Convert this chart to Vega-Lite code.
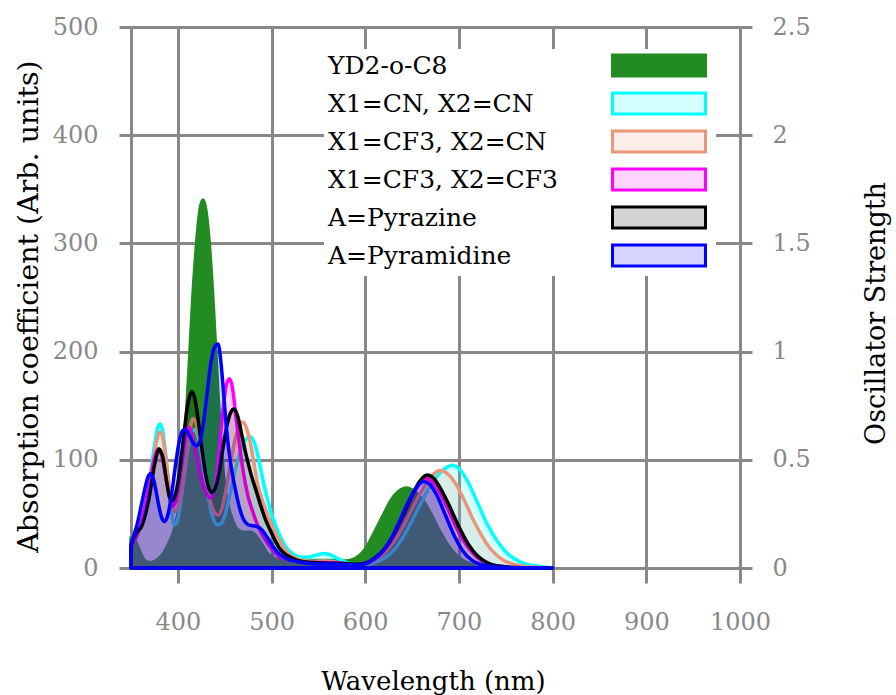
{
  "$schema": "https://vega.github.io/schema/vega-lite/v6.json",
  "width": 609,
  "height": 541,
  "autosize": {"type": "none"},
  "padding": {"left": 131, "top": 27, "right": 156, "bottom": 127},
  "background": "white",
  "config": {
    "font": "DejaVu Serif",
    "view": {"stroke": null},
    "axis": {"labelFont": "DejaVu Serif", "titleFont": "DejaVu Serif", "titleFontWeight": "normal", "titleColor": "#000000", "labelColor": "#888888", "labelFlush": false, "labelOverlap": false}
  },
  "data": {
    "values": [
      {"s":"YD2-o-C8","nm":350,"v":28},{"s":"YD2-o-C8","nm":354,"v":26},{"s":"YD2-o-C8","nm":358,"v":18},{"s":"YD2-o-C8","nm":362,"v":10},{"s":"YD2-o-C8","nm":366,"v":6},{"s":"YD2-o-C8","nm":370,"v":5},{"s":"YD2-o-C8","nm":375,"v":6},{"s":"YD2-o-C8","nm":380,"v":9},{"s":"YD2-o-C8","nm":385,"v":14},{"s":"YD2-o-C8","nm":390,"v":22},{"s":"YD2-o-C8","nm":395,"v":32},{"s":"YD2-o-C8","nm":400,"v":50},{"s":"YD2-o-C8","nm":404,"v":80},{"s":"YD2-o-C8","nm":408,"v":125},{"s":"YD2-o-C8","nm":412,"v":185},{"s":"YD2-o-C8","nm":416,"v":250},{"s":"YD2-o-C8","nm":420,"v":300},{"s":"YD2-o-C8","nm":424,"v":333},{"s":"YD2-o-C8","nm":427,"v":340},{"s":"YD2-o-C8","nm":430,"v":330},{"s":"YD2-o-C8","nm":434,"v":295},{"s":"YD2-o-C8","nm":438,"v":240},{"s":"YD2-o-C8","nm":442,"v":175},{"s":"YD2-o-C8","nm":446,"v":115},{"s":"YD2-o-C8","nm":450,"v":75},{"s":"YD2-o-C8","nm":454,"v":56},{"s":"YD2-o-C8","nm":458,"v":45},{"s":"YD2-o-C8","nm":463,"v":36},{"s":"YD2-o-C8","nm":470,"v":33},{"s":"YD2-o-C8","nm":478,"v":33},{"s":"YD2-o-C8","nm":485,"v":28},{"s":"YD2-o-C8","nm":490,"v":21},{"s":"YD2-o-C8","nm":495,"v":14},{"s":"YD2-o-C8","nm":500,"v":10},{"s":"YD2-o-C8","nm":510,"v":7.5},{"s":"YD2-o-C8","nm":530,"v":7},{"s":"YD2-o-C8","nm":560,"v":7},{"s":"YD2-o-C8","nm":580,"v":6.5},{"s":"YD2-o-C8","nm":590,"v":9},{"s":"YD2-o-C8","nm":600,"v":17},{"s":"YD2-o-C8","nm":610,"v":33},{"s":"YD2-o-C8","nm":620,"v":50},{"s":"YD2-o-C8","nm":628,"v":63},{"s":"YD2-o-C8","nm":636,"v":71},{"s":"YD2-o-C8","nm":644,"v":74},{"s":"YD2-o-C8","nm":650,"v":72},{"s":"YD2-o-C8","nm":656,"v":68},{"s":"YD2-o-C8","nm":662,"v":62},{"s":"YD2-o-C8","nm":670,"v":50},{"s":"YD2-o-C8","nm":680,"v":33},{"s":"YD2-o-C8","nm":690,"v":19},{"s":"YD2-o-C8","nm":698,"v":11},{"s":"YD2-o-C8","nm":706,"v":6},{"s":"YD2-o-C8","nm":715,"v":3},{"s":"YD2-o-C8","nm":730,"v":1},{"s":"YD2-o-C8","nm":750,"v":0.2},{"s":"YD2-o-C8","nm":800,"v":0},

      {"s":"X1=CN, X2=CN","nm":350,"v":20},{"s":"X1=CN, X2=CN","nm":355,"v":28},{"s":"X1=CN, X2=CN","nm":360,"v":38},{"s":"X1=CN, X2=CN","nm":365,"v":55},{"s":"X1=CN, X2=CN","nm":370,"v":82},{"s":"X1=CN, X2=CN","nm":375,"v":113},{"s":"X1=CN, X2=CN","nm":378,"v":128},{"s":"X1=CN, X2=CN","nm":381,"v":133},{"s":"X1=CN, X2=CN","nm":384,"v":126},{"s":"X1=CN, X2=CN","nm":387,"v":105},{"s":"X1=CN, X2=CN","nm":390,"v":78},{"s":"X1=CN, X2=CN","nm":393,"v":54},{"s":"X1=CN, X2=CN","nm":396,"v":40},{"s":"X1=CN, X2=CN","nm":399,"v":42},{"s":"X1=CN, X2=CN","nm":402,"v":55},{"s":"X1=CN, X2=CN","nm":406,"v":80},{"s":"X1=CN, X2=CN","nm":410,"v":105},{"s":"X1=CN, X2=CN","nm":414,"v":122},{"s":"X1=CN, X2=CN","nm":418,"v":128},{"s":"X1=CN, X2=CN","nm":422,"v":120},{"s":"X1=CN, X2=CN","nm":426,"v":100},{"s":"X1=CN, X2=CN","nm":430,"v":78},{"s":"X1=CN, X2=CN","nm":434,"v":58},{"s":"X1=CN, X2=CN","nm":438,"v":45},{"s":"X1=CN, X2=CN","nm":442,"v":40},{"s":"X1=CN, X2=CN","nm":446,"v":41},{"s":"X1=CN, X2=CN","nm":450,"v":48},{"s":"X1=CN, X2=CN","nm":455,"v":66},{"s":"X1=CN, X2=CN","nm":460,"v":86},{"s":"X1=CN, X2=CN","nm":465,"v":103},{"s":"X1=CN, X2=CN","nm":470,"v":115},{"s":"X1=CN, X2=CN","nm":474,"v":120},{"s":"X1=CN, X2=CN","nm":478,"v":121},{"s":"X1=CN, X2=CN","nm":482,"v":115},{"s":"X1=CN, X2=CN","nm":486,"v":102},{"s":"X1=CN, X2=CN","nm":490,"v":85},{"s":"X1=CN, X2=CN","nm":495,"v":66},{"s":"X1=CN, X2=CN","nm":500,"v":50},{"s":"X1=CN, X2=CN","nm":505,"v":38},{"s":"X1=CN, X2=CN","nm":510,"v":28},{"s":"X1=CN, X2=CN","nm":515,"v":20},{"s":"X1=CN, X2=CN","nm":520,"v":15},{"s":"X1=CN, X2=CN","nm":527,"v":11},{"s":"X1=CN, X2=CN","nm":535,"v":10},{"s":"X1=CN, X2=CN","nm":542,"v":10.5},{"s":"X1=CN, X2=CN","nm":550,"v":12.5},{"s":"X1=CN, X2=CN","nm":556,"v":13.5},{"s":"X1=CN, X2=CN","nm":562,"v":12.5},{"s":"X1=CN, X2=CN","nm":570,"v":9},{"s":"X1=CN, X2=CN","nm":580,"v":5},{"s":"X1=CN, X2=CN","nm":590,"v":3},{"s":"X1=CN, X2=CN","nm":600,"v":3},{"s":"X1=CN, X2=CN","nm":610,"v":5},{"s":"X1=CN, X2=CN","nm":620,"v":9},{"s":"X1=CN, X2=CN","nm":630,"v":16},{"s":"X1=CN, X2=CN","nm":640,"v":28},{"s":"X1=CN, X2=CN","nm":650,"v":44},{"s":"X1=CN, X2=CN","nm":660,"v":61},{"s":"X1=CN, X2=CN","nm":670,"v":77},{"s":"X1=CN, X2=CN","nm":680,"v":88},{"s":"X1=CN, X2=CN","nm":687,"v":93},{"s":"X1=CN, X2=CN","nm":693,"v":95},{"s":"X1=CN, X2=CN","nm":700,"v":92},{"s":"X1=CN, X2=CN","nm":710,"v":79},{"s":"X1=CN, X2=CN","nm":720,"v":60},{"s":"X1=CN, X2=CN","nm":730,"v":41},{"s":"X1=CN, X2=CN","nm":740,"v":26},{"s":"X1=CN, X2=CN","nm":750,"v":15},{"s":"X1=CN, X2=CN","nm":760,"v":8},{"s":"X1=CN, X2=CN","nm":770,"v":4},{"s":"X1=CN, X2=CN","nm":780,"v":2},{"s":"X1=CN, X2=CN","nm":790,"v":1},{"s":"X1=CN, X2=CN","nm":800,"v":0},

      {"s":"X1=CF3, X2=CN","nm":350,"v":20},{"s":"X1=CF3, X2=CN","nm":355,"v":27},{"s":"X1=CF3, X2=CN","nm":360,"v":37},{"s":"X1=CF3, X2=CN","nm":365,"v":52},{"s":"X1=CF3, X2=CN","nm":370,"v":76},{"s":"X1=CF3, X2=CN","nm":375,"v":105},{"s":"X1=CF3, X2=CN","nm":378,"v":120},{"s":"X1=CF3, X2=CN","nm":381,"v":126},{"s":"X1=CF3, X2=CN","nm":384,"v":120},{"s":"X1=CF3, X2=CN","nm":387,"v":103},{"s":"X1=CF3, X2=CN","nm":390,"v":82},{"s":"X1=CF3, X2=CN","nm":394,"v":60},{"s":"X1=CF3, X2=CN","nm":397,"v":52},{"s":"X1=CF3, X2=CN","nm":400,"v":56},{"s":"X1=CF3, X2=CN","nm":404,"v":72},{"s":"X1=CF3, X2=CN","nm":408,"v":98},{"s":"X1=CF3, X2=CN","nm":412,"v":124},{"s":"X1=CF3, X2=CN","nm":416,"v":138},{"s":"X1=CF3, X2=CN","nm":420,"v":133},{"s":"X1=CF3, X2=CN","nm":424,"v":115},{"s":"X1=CF3, X2=CN","nm":428,"v":92},{"s":"X1=CF3, X2=CN","nm":432,"v":72},{"s":"X1=CF3, X2=CN","nm":436,"v":58},{"s":"X1=CF3, X2=CN","nm":440,"v":50},{"s":"X1=CF3, X2=CN","nm":443,"v":49},{"s":"X1=CF3, X2=CN","nm":447,"v":55},{"s":"X1=CF3, X2=CN","nm":452,"v":75},{"s":"X1=CF3, X2=CN","nm":457,"v":100},{"s":"X1=CF3, X2=CN","nm":462,"v":122},{"s":"X1=CF3, X2=CN","nm":466,"v":132},{"s":"X1=CF3, X2=CN","nm":469,"v":135},{"s":"X1=CF3, X2=CN","nm":473,"v":130},{"s":"X1=CF3, X2=CN","nm":477,"v":117},{"s":"X1=CF3, X2=CN","nm":481,"v":98},{"s":"X1=CF3, X2=CN","nm":485,"v":78},{"s":"X1=CF3, X2=CN","nm":490,"v":63},{"s":"X1=CF3, X2=CN","nm":495,"v":51},{"s":"X1=CF3, X2=CN","nm":500,"v":40},{"s":"X1=CF3, X2=CN","nm":505,"v":31},{"s":"X1=CF3, X2=CN","nm":510,"v":23},{"s":"X1=CF3, X2=CN","nm":515,"v":16},{"s":"X1=CF3, X2=CN","nm":520,"v":12},{"s":"X1=CF3, X2=CN","nm":527,"v":8.6},{"s":"X1=CF3, X2=CN","nm":535,"v":7},{"s":"X1=CF3, X2=CN","nm":545,"v":6},{"s":"X1=CF3, X2=CN","nm":555,"v":6.5},{"s":"X1=CF3, X2=CN","nm":565,"v":6},{"s":"X1=CF3, X2=CN","nm":575,"v":4},{"s":"X1=CF3, X2=CN","nm":585,"v":3},{"s":"X1=CF3, X2=CN","nm":595,"v":3},{"s":"X1=CF3, X2=CN","nm":605,"v":5},{"s":"X1=CF3, X2=CN","nm":615,"v":10},{"s":"X1=CF3, X2=CN","nm":625,"v":18},{"s":"X1=CF3, X2=CN","nm":635,"v":30},{"s":"X1=CF3, X2=CN","nm":645,"v":46},{"s":"X1=CF3, X2=CN","nm":655,"v":63},{"s":"X1=CF3, X2=CN","nm":665,"v":78},{"s":"X1=CF3, X2=CN","nm":672,"v":86},{"s":"X1=CF3, X2=CN","nm":680,"v":90},{"s":"X1=CF3, X2=CN","nm":688,"v":87},{"s":"X1=CF3, X2=CN","nm":695,"v":80},{"s":"X1=CF3, X2=CN","nm":705,"v":64},{"s":"X1=CF3, X2=CN","nm":715,"v":45},{"s":"X1=CF3, X2=CN","nm":723,"v":32},{"s":"X1=CF3, X2=CN","nm":730,"v":22},{"s":"X1=CF3, X2=CN","nm":740,"v":12},{"s":"X1=CF3, X2=CN","nm":748,"v":7},{"s":"X1=CF3, X2=CN","nm":760,"v":3},{"s":"X1=CF3, X2=CN","nm":775,"v":1},{"s":"X1=CF3, X2=CN","nm":790,"v":0.3},{"s":"X1=CF3, X2=CN","nm":800,"v":0},

      {"s":"X1=CF3, X2=CF3","nm":350,"v":20},{"s":"X1=CF3, X2=CF3","nm":355,"v":28},{"s":"X1=CF3, X2=CF3","nm":360,"v":40},{"s":"X1=CF3, X2=CF3","nm":365,"v":58},{"s":"X1=CF3, X2=CF3","nm":370,"v":80},{"s":"X1=CF3, X2=CF3","nm":375,"v":102},{"s":"X1=CF3, X2=CF3","nm":379,"v":110},{"s":"X1=CF3, X2=CF3","nm":383,"v":103},{"s":"X1=CF3, X2=CF3","nm":387,"v":85},{"s":"X1=CF3, X2=CF3","nm":391,"v":66},{"s":"X1=CF3, X2=CF3","nm":394,"v":57},{"s":"X1=CF3, X2=CF3","nm":397,"v":60},{"s":"X1=CF3, X2=CF3","nm":401,"v":78},{"s":"X1=CF3, X2=CF3","nm":405,"v":102},{"s":"X1=CF3, X2=CF3","nm":408,"v":120},{"s":"X1=CF3, X2=CF3","nm":411,"v":130},{"s":"X1=CF3, X2=CF3","nm":414,"v":127},{"s":"X1=CF3, X2=CF3","nm":418,"v":112},{"s":"X1=CF3, X2=CF3","nm":422,"v":95},{"s":"X1=CF3, X2=CF3","nm":426,"v":80},{"s":"X1=CF3, X2=CF3","nm":430,"v":70},{"s":"X1=CF3, X2=CF3","nm":434,"v":65},{"s":"X1=CF3, X2=CF3","nm":437,"v":66},{"s":"X1=CF3, X2=CF3","nm":440,"v":78},{"s":"X1=CF3, X2=CF3","nm":444,"v":108},{"s":"X1=CF3, X2=CF3","nm":448,"v":145},{"s":"X1=CF3, X2=CF3","nm":452,"v":170},{"s":"X1=CF3, X2=CF3","nm":455,"v":175},{"s":"X1=CF3, X2=CF3","nm":458,"v":168},{"s":"X1=CF3, X2=CF3","nm":462,"v":140},{"s":"X1=CF3, X2=CF3","nm":466,"v":112},{"s":"X1=CF3, X2=CF3","nm":470,"v":88},{"s":"X1=CF3, X2=CF3","nm":475,"v":66},{"s":"X1=CF3, X2=CF3","nm":480,"v":52},{"s":"X1=CF3, X2=CF3","nm":485,"v":40},{"s":"X1=CF3, X2=CF3","nm":490,"v":31},{"s":"X1=CF3, X2=CF3","nm":495,"v":24},{"s":"X1=CF3, X2=CF3","nm":500,"v":18},{"s":"X1=CF3, X2=CF3","nm":505,"v":13},{"s":"X1=CF3, X2=CF3","nm":510,"v":10},{"s":"X1=CF3, X2=CF3","nm":515,"v":8.5},{"s":"X1=CF3, X2=CF3","nm":525,"v":6.5},{"s":"X1=CF3, X2=CF3","nm":540,"v":5},{"s":"X1=CF3, X2=CF3","nm":560,"v":5},{"s":"X1=CF3, X2=CF3","nm":580,"v":4},{"s":"X1=CF3, X2=CF3","nm":590,"v":3},{"s":"X1=CF3, X2=CF3","nm":600,"v":4},{"s":"X1=CF3, X2=CF3","nm":610,"v":8},{"s":"X1=CF3, X2=CF3","nm":620,"v":16},{"s":"X1=CF3, X2=CF3","nm":630,"v":29},{"s":"X1=CF3, X2=CF3","nm":640,"v":47},{"s":"X1=CF3, X2=CF3","nm":650,"v":66},{"s":"X1=CF3, X2=CF3","nm":658,"v":78},{"s":"X1=CF3, X2=CF3","nm":664,"v":83},{"s":"X1=CF3, X2=CF3","nm":670,"v":81},{"s":"X1=CF3, X2=CF3","nm":678,"v":72},{"s":"X1=CF3, X2=CF3","nm":688,"v":55},{"s":"X1=CF3, X2=CF3","nm":698,"v":36},{"s":"X1=CF3, X2=CF3","nm":708,"v":21},{"s":"X1=CF3, X2=CF3","nm":718,"v":11},{"s":"X1=CF3, X2=CF3","nm":728,"v":5},{"s":"X1=CF3, X2=CF3","nm":740,"v":2},{"s":"X1=CF3, X2=CF3","nm":760,"v":0.5},{"s":"X1=CF3, X2=CF3","nm":800,"v":0},

      {"s":"A=Pyrazine","nm":350,"v":20},{"s":"A=Pyrazine","nm":353,"v":28},{"s":"A=Pyrazine","nm":357,"v":34},{"s":"A=Pyrazine","nm":361,"v":38},{"s":"A=Pyrazine","nm":365,"v":48},{"s":"A=Pyrazine","nm":370,"v":68},{"s":"A=Pyrazine","nm":375,"v":95},{"s":"A=Pyrazine","nm":380,"v":110},{"s":"A=Pyrazine","nm":384,"v":102},{"s":"A=Pyrazine","nm":388,"v":80},{"s":"A=Pyrazine","nm":391,"v":66},{"s":"A=Pyrazine","nm":394,"v":62},{"s":"A=Pyrazine","nm":398,"v":70},{"s":"A=Pyrazine","nm":402,"v":90},{"s":"A=Pyrazine","nm":406,"v":120},{"s":"A=Pyrazine","nm":410,"v":148},{"s":"A=Pyrazine","nm":413,"v":160},{"s":"A=Pyrazine","nm":415,"v":163},{"s":"A=Pyrazine","nm":418,"v":157},{"s":"A=Pyrazine","nm":422,"v":135},{"s":"A=Pyrazine","nm":426,"v":108},{"s":"A=Pyrazine","nm":430,"v":85},{"s":"A=Pyrazine","nm":433,"v":74},{"s":"A=Pyrazine","nm":436,"v":70},{"s":"A=Pyrazine","nm":440,"v":74},{"s":"A=Pyrazine","nm":444,"v":88},{"s":"A=Pyrazine","nm":448,"v":110},{"s":"A=Pyrazine","nm":452,"v":130},{"s":"A=Pyrazine","nm":456,"v":143},{"s":"A=Pyrazine","nm":460,"v":147},{"s":"A=Pyrazine","nm":464,"v":140},{"s":"A=Pyrazine","nm":468,"v":124},{"s":"A=Pyrazine","nm":473,"v":104},{"s":"A=Pyrazine","nm":478,"v":87},{"s":"A=Pyrazine","nm":483,"v":73},{"s":"A=Pyrazine","nm":488,"v":59},{"s":"A=Pyrazine","nm":493,"v":46},{"s":"A=Pyrazine","nm":498,"v":36},{"s":"A=Pyrazine","nm":503,"v":27},{"s":"A=Pyrazine","nm":508,"v":19},{"s":"A=Pyrazine","nm":513,"v":14},{"s":"A=Pyrazine","nm":518,"v":11},{"s":"A=Pyrazine","nm":525,"v":8},{"s":"A=Pyrazine","nm":533,"v":6},{"s":"A=Pyrazine","nm":545,"v":5},{"s":"A=Pyrazine","nm":560,"v":4.5},{"s":"A=Pyrazine","nm":580,"v":4},{"s":"A=Pyrazine","nm":590,"v":3.5},{"s":"A=Pyrazine","nm":600,"v":4.5},{"s":"A=Pyrazine","nm":610,"v":9},{"s":"A=Pyrazine","nm":620,"v":17},{"s":"A=Pyrazine","nm":630,"v":30},{"s":"A=Pyrazine","nm":640,"v":48},{"s":"A=Pyrazine","nm":650,"v":67},{"s":"A=Pyrazine","nm":658,"v":80},{"s":"A=Pyrazine","nm":666,"v":86},{"s":"A=Pyrazine","nm":673,"v":83},{"s":"A=Pyrazine","nm":680,"v":74},{"s":"A=Pyrazine","nm":690,"v":57},{"s":"A=Pyrazine","nm":700,"v":38},{"s":"A=Pyrazine","nm":710,"v":22},{"s":"A=Pyrazine","nm":720,"v":11},{"s":"A=Pyrazine","nm":730,"v":5},{"s":"A=Pyrazine","nm":740,"v":2},{"s":"A=Pyrazine","nm":760,"v":0.5},{"s":"A=Pyrazine","nm":800,"v":0},

      {"s":"A=Pyramidine","nm":350,"v":22},{"s":"A=Pyramidine","nm":353,"v":30},{"s":"A=Pyramidine","nm":357,"v":42},{"s":"A=Pyramidine","nm":361,"v":58},{"s":"A=Pyramidine","nm":365,"v":74},{"s":"A=Pyramidine","nm":368,"v":84},{"s":"A=Pyramidine","nm":371,"v":87},{"s":"A=Pyramidine","nm":374,"v":82},{"s":"A=Pyramidine","nm":377,"v":70},{"s":"A=Pyramidine","nm":380,"v":56},{"s":"A=Pyramidine","nm":383,"v":46},{"s":"A=Pyramidine","nm":386,"v":43},{"s":"A=Pyramidine","nm":389,"v":48},{"s":"A=Pyramidine","nm":393,"v":66},{"s":"A=Pyramidine","nm":397,"v":92},{"s":"A=Pyramidine","nm":401,"v":115},{"s":"A=Pyramidine","nm":405,"v":127},{"s":"A=Pyramidine","nm":408,"v":128},{"s":"A=Pyramidine","nm":412,"v":123},{"s":"A=Pyramidine","nm":416,"v":116},{"s":"A=Pyramidine","nm":420,"v":113},{"s":"A=Pyramidine","nm":423,"v":116},{"s":"A=Pyramidine","nm":427,"v":132},{"s":"A=Pyramidine","nm":431,"v":160},{"s":"A=Pyramidine","nm":435,"v":188},{"s":"A=Pyramidine","nm":439,"v":204},{"s":"A=Pyramidine","nm":443,"v":207},{"s":"A=Pyramidine","nm":446,"v":190},{"s":"A=Pyramidine","nm":449,"v":160},{"s":"A=Pyramidine","nm":452,"v":128},{"s":"A=Pyramidine","nm":455,"v":105},{"s":"A=Pyramidine","nm":458,"v":88},{"s":"A=Pyramidine","nm":462,"v":70},{"s":"A=Pyramidine","nm":466,"v":55},{"s":"A=Pyramidine","nm":470,"v":45},{"s":"A=Pyramidine","nm":475,"v":40},{"s":"A=Pyramidine","nm":480,"v":39},{"s":"A=Pyramidine","nm":485,"v":38},{"s":"A=Pyramidine","nm":490,"v":35},{"s":"A=Pyramidine","nm":495,"v":29},{"s":"A=Pyramidine","nm":500,"v":22},{"s":"A=Pyramidine","nm":505,"v":16},{"s":"A=Pyramidine","nm":510,"v":12},{"s":"A=Pyramidine","nm":518,"v":8},{"s":"A=Pyramidine","nm":527,"v":6},{"s":"A=Pyramidine","nm":544,"v":4},{"s":"A=Pyramidine","nm":570,"v":3.5},{"s":"A=Pyramidine","nm":590,"v":3},{"s":"A=Pyramidine","nm":600,"v":4},{"s":"A=Pyramidine","nm":610,"v":9},{"s":"A=Pyramidine","nm":620,"v":17},{"s":"A=Pyramidine","nm":630,"v":31},{"s":"A=Pyramidine","nm":640,"v":50},{"s":"A=Pyramidine","nm":650,"v":68},{"s":"A=Pyramidine","nm":656,"v":76},{"s":"A=Pyramidine","nm":662,"v":80},{"s":"A=Pyramidine","nm":668,"v":78},{"s":"A=Pyramidine","nm":676,"v":68},{"s":"A=Pyramidine","nm":686,"v":48},{"s":"A=Pyramidine","nm":696,"v":28},{"s":"A=Pyramidine","nm":704,"v":16},{"s":"A=Pyramidine","nm":714,"v":7},{"s":"A=Pyramidine","nm":724,"v":3},{"s":"A=Pyramidine","nm":740,"v":1},{"s":"A=Pyramidine","nm":760,"v":0.3},{"s":"A=Pyramidine","nm":800,"v":0}
    ]
  },
  "layer": [
    {
      "encoding": {
        "x": {"field": "nm", "type": "quantitative",
          "scale": {"domain": [350, 1000], "nice": false, "zero": false},
          "axis": {"values": [400, 500, 600, 700, 800, 900, 1000], "format": "d", "title": "Wavelength (nm)",
            "grid": true, "gridColor": "#888888", "gridWidth": 3, "gridOpacity": 1,
            "domainColor": "#888888", "domainWidth": 3, "tickColor": "#888888", "tickWidth": 3, "tickSize": 15,
            "labelFontSize": 24, "labelPadding": 27, "titleFontSize": 26,
            "titleX": 302, "titleY": 121, "titleBaseline": "alphabetic"}},
        "y": {"field": "v", "type": "quantitative", "stack": null,
          "scale": {"domain": [0, 500], "nice": false},
          "axis": {"orient": "left", "values": [0, 100, 200, 300, 400, 500], "format": "d", "title": "Absorption coefficient (Arb. units)",
            "grid": true, "gridColor": "#888888", "gridWidth": 3, "gridOpacity": 1,
            "domainColor": "#888888", "domainWidth": 3, "tickColor": "#888888", "tickWidth": 3, "tickSize": 12,
            "labelFontSize": 24, "labelPadding": 21, "titleFontSize": 28.5,
            "titleX": -94, "titleY": 279, "titleBaseline": "alphabetic", "titleAngle": -90}},
        "fill": {"field": "s", "type": "nominal",
          "scale": {"domain": ["YD2-o-C8", "X1=CN, X2=CN", "X1=CF3, X2=CN", "X1=CF3, X2=CF3", "A=Pyrazine", "A=Pyramidine"],
            "range": ["#228b22", "rgba(0,255,255,0.17)", "rgba(233,150,122,0.17)", "rgba(255,0,255,0.17)", "rgba(0,0,0,0.17)", "rgba(0,0,255,0.17)"]},
          "legend": {"title": null, "orient": "none", "legendX": 193, "legendY": 22, "direction": "vertical", "padding": 4,
            "fillColor": "white", "labelFontSize": 25, "labelColor": "#000000", "labelFont": "DejaVu Serif", "labelLimit": 400,
            "labelOffset": -25, "symbolType": "M272,-10.5H365V10.5H272Z", "symbolSize": 4, "symbolStrokeWidth": 3, "rowPadding": 5}},
        "stroke": {"field": "s", "type": "nominal",
          "scale": {"domain": ["YD2-o-C8", "X1=CN, X2=CN", "X1=CF3, X2=CN", "X1=CF3, X2=CF3", "A=Pyrazine", "A=Pyramidine"],
            "range": ["#228b22", "#00ffff", "#e9967a", "#ff00ff", "#000000", "#0000ff"]},
          "legend": {"title": null, "orient": "none", "legendX": 193, "legendY": 22, "direction": "vertical", "padding": 4,
            "fillColor": "white", "labelFontSize": 25, "labelColor": "#000000", "labelFont": "DejaVu Serif", "labelLimit": 400,
            "labelOffset": -25, "symbolType": "M272,-10.5H365V10.5H272Z", "symbolSize": 4, "symbolStrokeWidth": 3, "rowPadding": 5}}
      },
      "layer": [
        {"transform": [{"filter": {"field": "s", "equal": "YD2-o-C8"}}], "mark": {"type": "area", "interpolate": "monotone", "strokeWidth": 3.5, "strokeJoin": "round"}},
        {"transform": [{"filter": {"field": "s", "equal": "X1=CN, X2=CN"}}], "mark": {"type": "area", "interpolate": "monotone", "strokeWidth": 3.5, "strokeJoin": "round"}},
        {"transform": [{"filter": {"field": "s", "equal": "X1=CF3, X2=CN"}}], "mark": {"type": "area", "interpolate": "monotone", "strokeWidth": 3.5, "strokeJoin": "round"}},
        {"transform": [{"filter": {"field": "s", "equal": "X1=CF3, X2=CF3"}}], "mark": {"type": "area", "interpolate": "monotone", "strokeWidth": 3.5, "strokeJoin": "round"}},
        {"transform": [{"filter": {"field": "s", "equal": "A=Pyrazine"}}], "mark": {"type": "area", "interpolate": "monotone", "strokeWidth": 3.5, "strokeJoin": "round"}},
        {"transform": [{"filter": {"field": "s", "equal": "A=Pyramidine"}}], "mark": {"type": "area", "interpolate": "monotone", "strokeWidth": 3.5, "strokeJoin": "round"}}
      ]
    },
    {
      "data": {"values": [{"f": 0}]},
      "mark": {"type": "rule", "opacity": 0},
      "encoding": {
        "y": {"field": "f", "type": "quantitative",
          "scale": {"domain": [0, 2.5], "nice": false},
          "axis": {"orient": "right", "values": [0, 0.5, 1, 1.5, 2, 2.5], "format": "~g", "title": "Oscillator Strength",
            "grid": false, "domainColor": "#888888", "domainWidth": 1.5, "tickColor": "#888888", "tickWidth": 3, "tickSize": 12,
            "labelFontSize": 24, "labelPadding": 20, "titleFontSize": 27,
            "titleX": 144, "titleY": 286, "titleBaseline": "alphabetic", "titleAngle": -90}}
      }
    }
  ],
  "resolve": {"scale": {"y": "independent"}}
}
